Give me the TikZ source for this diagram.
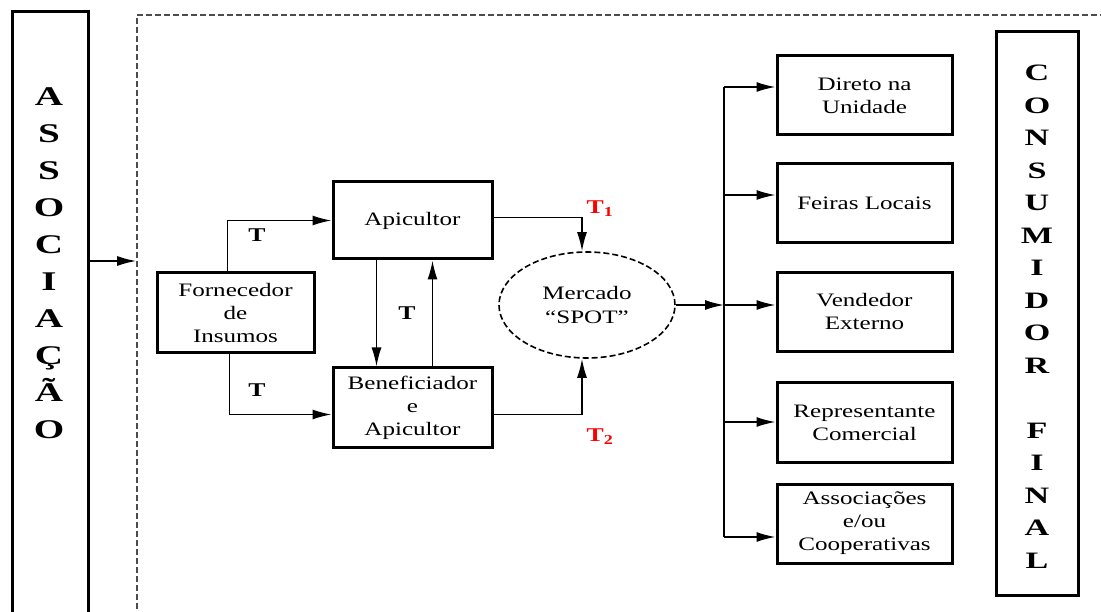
\documentclass[tikz,border=0pt]{standalone}
\usepackage{fontspec}
\setmainfont{Liberation Serif}[FakeStretch=1.32]
\newfontfamily\tallfont{Liberation Serif}[FakeStretch=1.45]
\usetikzlibrary{arrows.meta, shapes.geometric}

\begin{document}
\begin{tikzpicture}[x=1pt, y=-1pt,
    > = {Latex[length=19pt, width=10pt]},
    box/.style = {draw, line width=3pt, align=center,
        font=\fontsize{19}{23}\selectfont},
    flow/.style = {->, line width=1.6pt},
    tlabel/.style = {font=\fontsize{19.5}{23}\selectfont\bfseries},
    column/.style = {align=center, font=\tallfont\bfseries}]
    \useasboundingbox (0,0) rectangle (1101,612);
    % Outer parts
    %% Frame
    \node [draw, black!70, line width=1.7pt, dash pattern=on 6pt off 3pt,
        minimum width=978pt, minimum height=615pt] (frame) at (626, 322.5) {};
    %% Associacao
    \node [draw, line width=3pt, minimum width=76pt, minimum height=613pt]
        (assoc) at (50, 318.5) {};
    \node [column, font=\tallfont\bfseries\fontsize{27}{37}\selectfont]
        (assoc-txt) at (49, 263) {A\\S\\S\\O\\C\\I\\A\\Ç\\Ã\\O};
    \coordinate (a-out) at (assoc.east |- 0, 261);
    \draw [flow] (a-out) -- (a-out -| frame.west);
    %% Consumidor final
    \node [draw, line width=3pt, minimum width=82pt, minimum height=563pt]
        (consum) at (1037, 313.5) {};
    \node [column, font=\tallfont\bfseries\fontsize{23.5}{32.5}\selectfont]
        (consum-txt) at (1037, 316.5)
        {C\\O\\N\\S\\U\\M\\I\\D\\O\\R\\[32.5pt]F\\I\\N\\A\\L};

    % Producers
    \node [box, minimum width=157pt, minimum height=80pt] (forn) at (235.5, 313)
        {Fornecedor\\de\\Insumos};
    \node [box, minimum width=159pt, minimum height=77pt] (apic) at (412.5, 220.5)
        {Apicultor};
    \node [box, minimum width=159pt, minimum height=79pt] (benef) at (412.5, 407.5)
        {Beneficiador\\e\\Apicultor};
    \node [draw, ellipse, line width=1.6pt, dash pattern=on 6pt off 3pt,
        minimum width=176pt, minimum height=106pt, align=center,
        font=\fontsize{19}{24}\selectfont] (spot) at (587, 305)
        {Mercado\\“SPOT”};
    %% Connectors
    \draw [flow] ([xshift=-8pt]forn.north) |- (apic.west);
    \draw [flow] ([xshift=-6pt]forn.south) |- ([yshift=-7pt]benef.west);
    \draw [flow] ([xshift=-36pt]apic.south) -- ([xshift=-36pt]benef.north);
    \draw [flow] ([xshift=20pt]benef.north) -- ([xshift=20pt]apic.south);
    \draw [flow] ([yshift=3pt]apic.east) -| ([xshift=-5pt]spot.north);
    \draw [flow] ([yshift=-7pt]benef.east) -| ([xshift=-5pt]spot.south);
    %% Annotations
    \node [tlabel] (t-up) at (257, 235) {T};
    \node [tlabel] (t-low) at (257, 390) {T};
    \node [tlabel] (t-mid) at (407, 313) {T};
    \node [tlabel, red] (t-one) at (600, 209) {T\textsubscript{1}};
    \node [tlabel, red] (t-two) at (600, 437) {T\textsubscript{2}};

    % Channels
    \foreach \n/\y/\txt in {direto/95.5/{Direto na\\Unidade},
                            feiras/203/{Feiras Locais},
                            vendedor/312/{Vendedor\\Externo},
                            repres/422.5/{Representante\\Comercial},
                            assocs/523.5/{Associações\\e/ou\\Cooperativas}}
        \node [box, minimum width=175pt, minimum height=79pt] (\n) at (864.5, \y) {\txt};
    %% Bus
    \coordinate (bus-top) at (724, 87);
    \coordinate (bus-bot) at (724, 537);
    \draw [line width=1.6pt] (bus-top) -- (bus-bot);
    \draw [flow] (spot.east) -- (spot.east -| bus-top);
    \foreach \n/\y in {direto/87, feiras/195, vendedor/305, repres/422, assocs/537} {
        \coordinate (b-\n) at (724, \y);
        \draw [flow] (b-\n) -- (b-\n -| \n.west);
    }
\end{tikzpicture}
\end{document}
